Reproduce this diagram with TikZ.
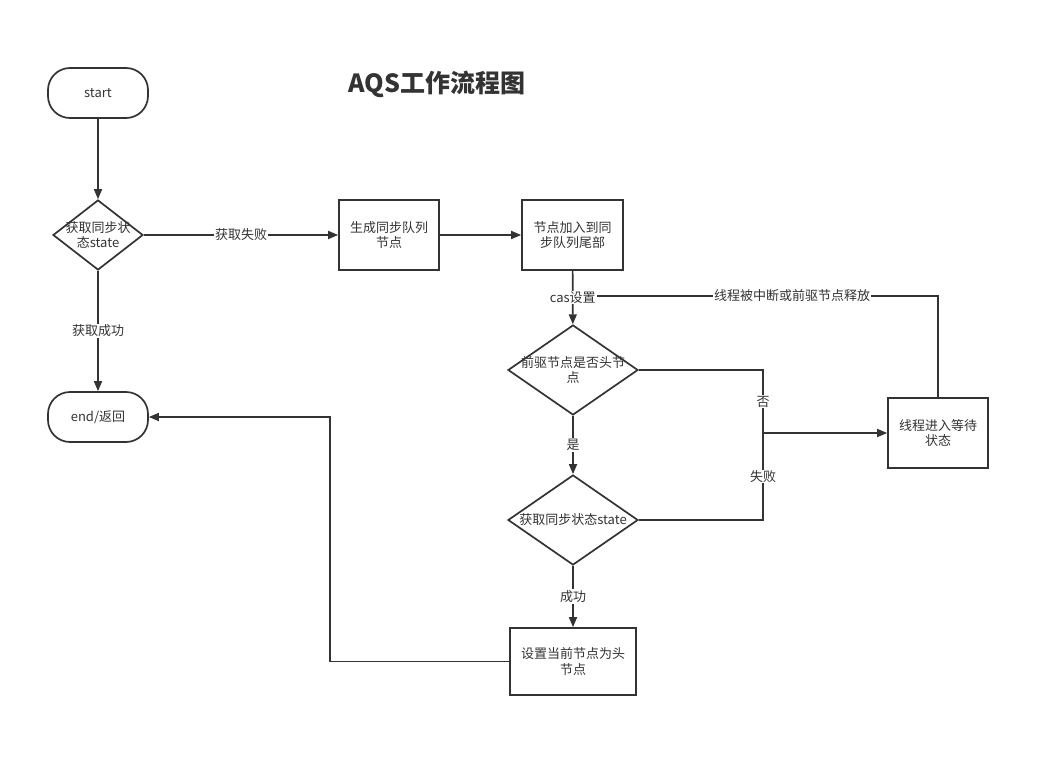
\documentclass[tikz,border=0pt]{standalone}
\usepackage{fontspec}
\setmainfont{Noto Sans CJK SC}
\usetikzlibrary{shapes.geometric,arrows.meta}
\definecolor{ink}{HTML}{333333}
\begin{document}
\begin{tikzpicture}[x=1bp,y=-1bp,
  every node/.style={font=\fontsize{13bp}{15.5bp}\selectfont, text=ink},
  box/.style={draw=ink, line width=1.7bp, minimum width=100bp, minimum height=70bp, align=center, inner sep=0pt},
  term/.style={draw=ink, line width=1.7bp, rounded corners=22bp, minimum width=100bp, minimum height=50bp, inner sep=0pt},
  dec/.style={draw=ink, line width=1.7bp, diamond, inner sep=0pt},
  txt/.style={align=center, inner sep=0pt},
  lbl/.style={fill=white, inner sep=1bp},
  conn/.style={draw=ink, line width=1.7bp},
  arr/.style={conn, -{Triangle[length=10bp,width=8bp]}}
]
\useasboundingbox (0,0) rectangle (1050,757);

\node[font=\fontsize{25bp}{30bp}\selectfont\bfseries] (title) at (437,84) {AQS工作流程图};

\node[term] (start) at (98,93) {start};
\node[dec, minimum width=90bp, minimum height=70bp] (d1) at (98,235) {};
\node[txt] (d1t) at (d1) {获取同步状\\态state};
\node[term] (end) at (98,417) {end/返回};

\node[box] (b1) at (389,235) {生成同步队列\\节点};
\node[box, minimum width=101bp] (b2) at (572.5,235) {节点加入到同\\步队列尾部};

\node[dec, minimum width=130bp, minimum height=90bp] (d2) at (573,370) {};
\node[txt] (d2t) at (d2) {前驱节点是否头节\\点};
\node[dec, minimum width=130bp, minimum height=90bp] (d3) at (573,520) {};
\node[txt] (d3t) at (d3) {获取同步状态state};

\node[box, minimum width=126bp, minimum height=67bp] (b3) at (573,661.5) {设置当前节点为头\\节点};
\node[box] (wait) at (938,433) {线程进入等待\\状态};

\coordinate (jn) at (763,433);
\coordinate (cas) at (573,296);
\coordinate (c1) at (330,661.5);

\draw[arr] (start) -- (d1);
\draw[arr] (d1) -- node[lbl]{获取成功} (end);
\draw[arr] (d1) -- node[lbl]{获取失败} (b1);
\draw[arr] (b1) -- (b2);
\draw[conn] (wait.north) |- node[lbl, pos=0.7]{线程被中断或前驱节点释放} (cas);
\draw[arr] (b2) -- node[lbl]{cas设置} (d2);
\draw[conn] (d2.east) -| node[lbl, pos=0.75]{否} (jn);
\draw[conn] (d3.east) -| node[lbl, pos=0.75]{失败} (jn);
\draw[arr] (jn) -- (wait.west);
\draw[arr] (d2) -- node[lbl]{是} (d3);
\draw[arr] (d3) -- node[lbl]{成功} (b3);
\draw[arr] (b3.west) -- (c1) |- (end.east);
\end{tikzpicture}
\end{document}
